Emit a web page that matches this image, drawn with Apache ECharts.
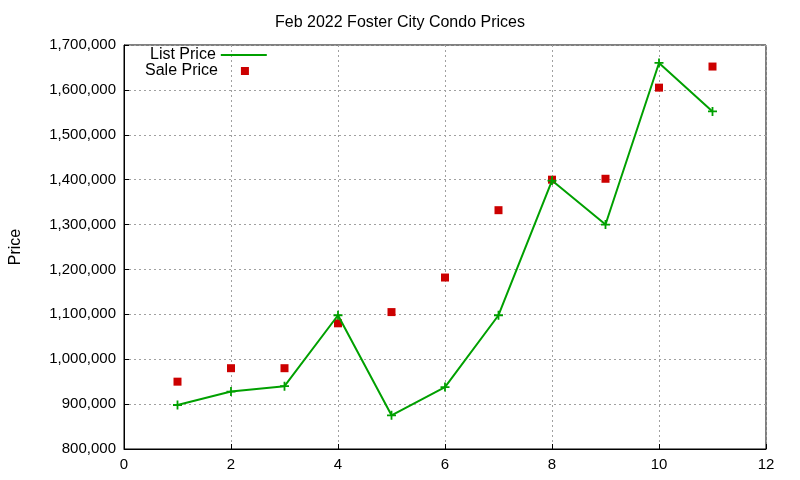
<!DOCTYPE html>
<html><head><meta charset="utf-8">
<script src="https://cdn.jsdelivr.net/npm/echarts@6/dist/echarts.min.js"></script>
<style>html,body{margin:0;background:#fff}#c{width:800px;height:480px}</style>
</head><body><div id="c"></div>
<script>
const xs=[1,2,3,4,5,6,7,8,9,10,11];
const listPrice=[898000,928000,940000,1098000,875000,938000,1098000,1398000,1300000,1660000,1552000];
const salePrice=[950000,980000,980000,1080000,1105000,1182000,1332000,1400000,1402000,1605000,1652000];
const chart=echarts.init(document.getElementById('c'));
const F='Liberation Sans';
const ax={axisLine:{show:true,onZero:false,lineStyle:{color:'#000'}},axisTick:{inside:true,lineStyle:{color:'#000'}},
 axisLabel:{color:'#000',fontSize:15,fontFamily:F},splitLine:{show:true,lineStyle:{color:'#a0a0a0',type:[2,3]}}};
chart.setOption({
 animation:false,
 title:{text:'Feb 2022 Foster City Condo Prices',left:'center',top:10,textStyle:{fontSize:16,fontWeight:'normal',fontFamily:F,color:'#000'}},
 grid:{left:120,right:34,top:45,bottom:31,show:true,borderColor:'#000',borderWidth:1},
 legend:[
  {left:150,top:47,padding:0,align:'right',itemWidth:46,itemHeight:12,textStyle:{fontSize:16,fontFamily:F,color:'#000'},
   data:[{name:'List Price',icon:'path://M0,5L46,5L46,7L0,7Z'}]},
  {left:145,top:63,padding:0,align:'right',itemWidth:8,itemHeight:8,textStyle:{fontSize:16,fontFamily:F,color:'#000',padding:[0,18,0,0]},
   data:[{name:'Sale Price',icon:'rect'}]}
 ],
 xAxis:Object.assign({type:'value',min:0,max:12,interval:2},ax),
 yAxis:Object.assign({type:'value',min:800000,max:1700000,interval:100000,name:'Price',nameLocation:'middle',nameGap:100,nameRotate:90,
   nameTextStyle:{fontSize:16,fontFamily:F,color:'#000'},axisLabel:{color:'#000',fontSize:15,fontFamily:F,formatter:v=>String(v)}},ax),
 series:[
  {name:'List Price',type:'line',data:xs.map((x,i)=>[x,listPrice[i]]),color:'#00a000',lineStyle:{width:2},
   symbol:'path://M4,0L6,0L6,4L10,4L10,6L6,6L6,10L4,10L4,6L0,6L0,4L4,4Z',symbolSize:9,itemStyle:{color:'#00a000'}},
  {name:'Sale Price',type:'scatter',data:xs.map((x,i)=>[x,salePrice[i]]),color:'#cc0000',symbol:'rect',symbolSize:8,itemStyle:{color:'#cc0000',opacity:1}}
 ]
});
</script></body></html>
